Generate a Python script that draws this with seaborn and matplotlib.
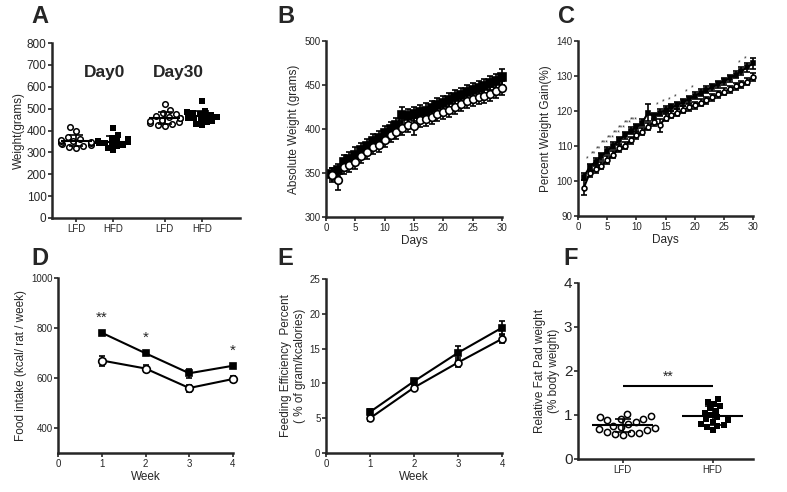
import numpy as np
import pandas as pd
import seaborn as sns
import matplotlib
matplotlib.use('Agg')
import matplotlib.pyplot as plt

sns.set_style('ticks')
plt.rcParams['font.family'] = ['Liberation Sans', 'DejaVu Sans']

# ---- data ----
groups = ['LFD', 'HFD']

# A: individual body weights
a_lfd_day0 = [320, 325, 330, 333, 338, 342, 345, 348, 350, 352, 355, 360, 372, 397, 415]
a_hfd_day0 = [310, 320, 328, 335, 340, 342, 345, 348, 350, 355, 360, 368, 380, 410]
a_lfd_day30 = [420, 425, 430, 435, 440, 445, 450, 455, 458, 462, 468, 475, 482, 495, 520]
a_hfd_day30 = [425, 432, 440, 445, 450, 455, 458, 462, 465, 470, 475, 480, 485, 490, 535]

# B: absolute weight (mean, SEM) per day
days = list(range(1, 31))
b_lfd = [348, 342, 357, 359, 363, 369, 374, 380, 382, 388, 393, 397, 401, 405, 403,
         410, 411, 414, 417, 419, 422, 425, 428, 432, 434, 436, 438, 440, 443, 447]
b_hfd = [349, 353, 362, 366, 371, 376, 381, 386, 390, 395, 400, 405, 416, 415, 417,
         419, 421, 424, 427, 430, 433, 436, 439, 442, 444, 447, 449, 452, 455, 459]
b_lfd_err = [8, 11, 8, 8, 8, 8, 8, 8, 8, 8, 8, 8, 8, 8, 10,
             8, 8, 8, 8, 8, 8, 8, 8, 8, 8, 8, 8, 8, 8, 8]
b_hfd_err = [7, 7, 8, 8, 8, 8, 8, 8, 8, 8, 8, 8, 9, 8, 8,
             8, 8, 8, 8, 8, 8, 8, 8, 8, 8, 8, 8, 8, 8, 9]

# C: percent weight gain (mean, SEM)
c_lfd = [98.1, 102.2, 103.3, 104.3, 106.0, 107.5, 109.3, 110.0, 111.6, 113.1, 114.1, 115.5,
         116.8, 115.9, 118.1, 118.9, 119.5, 120.3, 121.0, 121.7, 122.4, 123.1, 123.9, 124.8,
         125.5, 126.2, 127.0, 127.6, 128.4, 129.7]
c_hfd = [101.2, 104.0, 105.5, 107.0, 108.7, 110.0, 111.6, 113.0, 114.3, 115.4, 116.6, 119.5,
         118.5, 119.5, 120.3, 121.0, 121.7, 122.5, 123.4, 124.3, 125.2, 126.0, 126.8, 127.7,
         128.5, 129.4, 130.3, 131.4, 132.5, 133.6]
c_lfd_err = [2.2, 1, 1, 1, 1, 1, 1, 1, 1, 1, 1, 1, 1, 1.8, 1, 1, 1, 1, 1, 1, 1, 1, 1, 1, 1,
             1, 1, 1, 1, 1.2]
c_hfd_err = [1, 1, 1, 1, 1, 1, 1, 1, 1, 1, 1, 2.5, 1, 1, 1, 1, 1, 1, 1, 1, 1, 1, 1, 1, 1,
             1, 1, 1.2, 1.3, 1.5]
c_stars = {2: '*', 3: '**', 4: '**', 5: '***', 6: '***', 7: '***', 8: '***', 9: '***',
           10: '***', 14: '*', 15: '*', 16: '*', 17: '*', 19: '*', 20: '*', 28: '*', 29: '*'}

# D: food intake per week
weeks = [1, 2, 3, 4]
d_lfd = [670, 638, 560, 596]
d_hfd = [781, 699, 619, 649]
d_lfd_err = [20, 15, 14, 12]
d_hfd_err = [8, 8, 18, 8]
d_stars = ['**', '*', '', '*']

# E: feeding efficiency
e_lfd = [5.0, 9.4, 13.0, 16.4]
e_hfd = [5.9, 10.3, 14.4, 18.0]
e_lfd_err = [0.4, 0.4, 0.6, 0.6]
e_hfd_err = [0.4, 0.4, 1.0, 0.9]

# F: relative fat pad weight
f_lfd = [0.55, 0.57, 0.6, 0.6, 0.62, 0.65, 0.68, 0.7, 0.72, 0.75, 0.8, 0.85, 0.88, 0.9,
         0.92, 0.95, 0.97, 1.03]
f_hfd = [0.65, 0.72, 0.75, 0.78, 0.8, 0.85, 0.88, 0.9, 0.95, 1.0, 1.05, 1.1, 1.15, 1.2,
         1.25, 1.3, 1.37]

W, H = 787, 492
fig = plt.figure(figsize=(W / 100, H / 100), dpi=100)


def add_ax(left, top, right, bottom):
    return fig.add_axes([left / W, 1 - bottom / H, (right - left) / W, (bottom - top) / H])


def style(ax):
    sns.despine(ax=ax)
    for s in ['left', 'bottom']:
        ax.spines[s].set_linewidth(1.8)
    ax.tick_params(width=1.2, length=3, labelsize=7, pad=1)


def letter(x, y, t):
    fig.text(x / W, 1 - y / H, t, fontsize=17, fontweight='bold', va='top', ha='left')


open_kw = dict(marker='o', mfc='white', mec='black', color='black')
fill_kw = dict(marker='s', mfc='black', mec='black', color='black')


def series(ax, x, y, err, kw, ms, lw=1.5, cap=2.5, line=True):
    ax.errorbar(x, y, yerr=err, fmt='none', ecolor='black', elinewidth=1.2,
                capsize=cap, capthick=1.2, zorder=2, clip_on=False)
    sns.lineplot(x=x, y=y, ax=ax, color='black', lw=lw if line else 0, marker=kw['marker'],
                 markersize=ms, markerfacecolor=kw['mfc'], markeredgecolor='black',
                 markeredgewidth=1.2, zorder=3, clip_on=False)


# ---- A ----
ax = add_ax(52, 43, 240, 218)
pos = [0, 1, 2.4, 3.4]
sets = [a_lfd_day0, a_hfd_day0, a_lfd_day30, a_hfd_day30]
for p, vals in zip(pos, sets):
    df = pd.DataFrame({'x': [p] * len(vals), 'w': vals})
    if p in (0, 2.4):
        sns.swarmplot(data=df, x='x', y='w', native_scale=True, ax=ax, marker='o',
                      color='white', edgecolor='black', linewidth=1.1, size=4, zorder=3)
    else:
        sns.swarmplot(data=df, x='x', y='w', native_scale=True, ax=ax, marker='s',
                      color='black', size=4, zorder=3)
    m, sd = np.mean(vals), np.std(vals)
    ax.hlines(m, p - 0.42, p + 0.42, color='black', lw=1.5, zorder=4)
    ax.errorbar(p, m, yerr=sd, fmt='none', ecolor='black', elinewidth=1.2, capsize=5,
                capthick=1.2, zorder=4)
ax.set_xlim(-0.65, 4.43)
ax.set_ylim(0, 800)
ax.set_yticks(range(0, 801, 100))
ax.set_xticks(pos)
ax.set_xticklabels(['LFD', 'HFD', 'LFD', 'HFD'], fontsize=9)
ax.set_xlabel('')
ax.set_ylabel('Weight(grams)', fontsize=8.5, labelpad=1)
ax.text(0.78, 665, 'Day0', fontsize=12.5, fontweight='bold', ha='center', va='center')
ax.text(2.76, 665, 'Day30', fontsize=12.5, fontweight='bold', ha='center', va='center')
style(ax)
ax.tick_params(axis='y', labelsize=8.5)
letter(31, 5, 'A')

# ---- B ----
ax = add_ax(326, 41, 502, 217)
series(ax, days, b_hfd, b_hfd_err, fill_kw, 5.5, lw=1.2)
series(ax, days, b_lfd, b_lfd_err, open_kw, 5.5, lw=1.2)
ax.set_xlim(0, 30)
ax.set_ylim(300, 500)
ax.set_xticks(range(0, 31, 5))
ax.set_yticks(range(300, 501, 50))
ax.set_xlabel('Days', fontsize=8.5, labelpad=2)
ax.set_ylabel('Absolute Weight (grams)', fontsize=8.5, labelpad=3)
style(ax)
letter(277, 5, 'B')

# ---- C ----
ax = add_ax(578, 41, 753, 216)
series(ax, days, c_hfd, c_hfd_err, fill_kw, 3.5, lw=1.5, cap=2)
series(ax, days, c_lfd, c_lfd_err, open_kw, 3.5, lw=1.5, cap=2)
for d, s in c_stars.items():
    ax.text(d - 0.4, c_hfd[d - 1] + c_hfd_err[d - 1] + 0.2, s, fontsize=5, ha='center',
            va='bottom')
ax.set_xlim(0, 30)
ax.set_ylim(90, 140)
ax.set_xticks(range(0, 31, 5))
ax.set_yticks(range(90, 141, 10))
ax.set_xlabel('Days', fontsize=8.5, labelpad=2)
ax.set_ylabel('Percent Weight Gain(%)', fontsize=8.5, labelpad=3)
style(ax)
letter(558, 5, 'C')

# ---- D ----
ax = add_ax(58, 278, 233, 453)
series(ax, weeks, d_hfd, d_hfd_err, fill_kw, 5)
series(ax, weeks, d_lfd, d_lfd_err, open_kw, 5.5)
for w, s, v, e in zip(weeks, d_stars, d_hfd, d_hfd_err):
    if s:
        ax.text(w, v + e + 25, s, fontsize=11, ha='center', va='bottom')
ax.set_xlim(0, 4)
ax.set_ylim(300, 1000)
ax.set_xticks(range(0, 5))
ax.set_yticks([400, 600, 800, 1000])
ax.set_xlabel('Week', fontsize=8.5, labelpad=2)
ax.set_ylabel('Food intake (kcal/ rat / week)', fontsize=8.5, labelpad=3)
style(ax)
letter(31, 247, 'D')

# ---- E ----
ax = add_ax(326, 279, 502, 453)
series(ax, weeks, e_hfd, e_hfd_err, fill_kw, 5)
series(ax, weeks, e_lfd, e_lfd_err, open_kw, 5)
ax.set_xlim(0, 4)
ax.set_ylim(0, 25)
ax.set_xticks(range(0, 5))
ax.set_yticks(range(0, 26, 5))
ax.set_xlabel('Week', fontsize=8.5, labelpad=2)
ax.set_ylabel('Feeding Efficiency  Percent\n( % of gram/kcalories)', fontsize=8.5, labelpad=3)
style(ax)
letter(277, 247, 'E')

# ---- F ----
ax = add_ax(578, 283, 753, 459)
for p, vals in zip([0, 1], [f_lfd, f_hfd]):
    df = pd.DataFrame({'x': [p] * len(vals), 'v': vals})
    if p == 0:
        sns.swarmplot(data=df, x='x', y='v', native_scale=True, ax=ax, marker='o',
                      color='white', edgecolor='black', linewidth=1.1, size=4.5, zorder=3)
    else:
        sns.swarmplot(data=df, x='x', y='v', native_scale=True, ax=ax, marker='s',
                      color='black', size=4.5, zorder=3)
    m, sd = np.mean(vals), np.std(vals)
    ax.hlines(m, p - 0.34, p + 0.34, color='black', lw=1.5, zorder=4)
    ax.errorbar(p, m, yerr=sd, fmt='none', ecolor='black', elinewidth=1.2, capsize=6,
                capthick=1.2, zorder=4)
ax.hlines(1.67, 0, 1, color='black', lw=1.5)
ax.text(0.5, 1.72, '**', fontsize=10, ha='center', va='bottom')
ax.set_xlim(-0.5, 1.45)
ax.set_ylim(0, 4)
ax.set_xticks([0, 1])
ax.set_xticklabels(groups, fontsize=9.5)
ax.set_yticks(range(0, 5))
ax.set_xlabel('')
ax.set_ylabel('Relative Fat Pad weight\n(% body weight)', fontsize=8.5, labelpad=3)
style(ax)
ax.tick_params(axis='y', labelsize=11)
letter(563, 247, 'F')

fig.savefig('out.png', dpi=100)
